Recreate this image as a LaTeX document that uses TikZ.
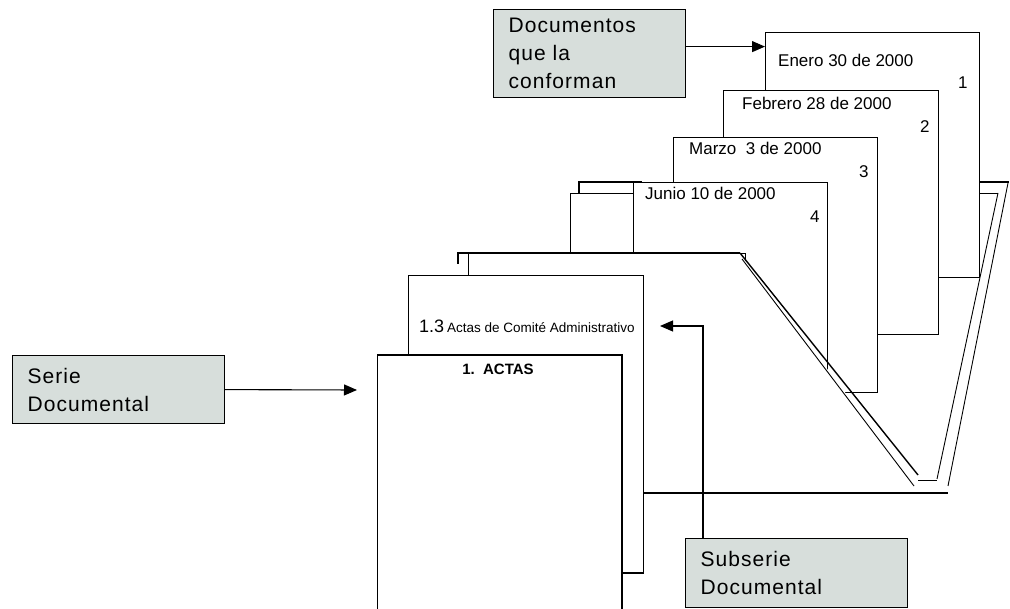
\documentclass[tikz,border=0pt]{standalone}
\usepackage{fontspec}
\setmainfont{Liberation Sans}
\newfontfamily\callfont[LetterSpace=5]{Liberation Sans}
\usetikzlibrary{arrows.meta,calc}
\definecolor{callfill}{RGB}{215,222,219}
\begin{document}
\begin{tikzpicture}[x=1pt,y=-1pt,line join=miter,
  thinline/.style={line width=0.9pt},
  thickline/.style={line width=1.9pt},
  callout/.style={draw,line width=1.2pt,fill=callfill,align=left,inner xsep=15pt,inner ysep=0pt,anchor=north west,font=\callfont\fontsize{21}{28}\selectfont},
  sheet/.style={draw,fill=white,line width=0.9pt,anchor=north west,inner sep=0pt},
  datelabel/.style={font=\fontsize{17}{20}\selectfont,anchor=base west,inner sep=0pt},
  numlabel/.style={font=\fontsize{17}{20}\selectfont,anchor=base west,inner sep=0pt},
  arrow/.style={line width=1.1pt,-{Triangle[length=13pt,width=11pt]}}]
\useasboundingbox (0,0) rectangle (1010,609);
\clip (0,0) rectangle (1010,609);
% back folder (behind the documents)
\draw[thickline] (579,193) -- (579,182) -- (642,182);
\draw[thickline] (979,182) -- (1009,182);
\draw[thinline] (570,252) -- (570,193) -- (633,193);
\draw[thinline] (979,193) -- (998,193);
\draw[thinline] (998,193) -- (937,479);
\draw[thinline] (1008,183) -- (948,486);
% documents
\node[sheet,minimum width=214,minimum height=245] (doc1) at (765,32) {};
\node[datelabel] (t1) at (778,67) {Enero 30 de 2000};
\node[numlabel] (n1) at (958,89) {1};
\node[sheet,minimum width=215,minimum height=244] (doc2) at (723,90) {};
\node[datelabel] (t2) at (742,110) {Febrero 28 de 2000};
\node[numlabel] (n2) at (920,133) {2};
\node[sheet,minimum width=204,minimum height=255] (doc3) at (673,137) {};
\node[datelabel] (t3) at (689,155) {Marzo \ 3 de 2000};
\node[numlabel] (n3) at (859,178) {3};
\node[sheet,minimum width=194,minimum height=230] (doc4) at (633,182) {};
\node[datelabel] (t4) at (645,200) {Junio 10 de 2000};
\node[numlabel] (n4) at (810,223) {4};
% front flap of the folder
\fill[white] (468,254) -- (740,254) -- (916,486) -- (916,492) -- (643,492) -- (643,275) -- (468,275) -- cycle;
\draw[thickline] (458,264) -- (458,253) -- (740,253);
\draw[thinline] (468,253) -- (468,275);
\draw[thinline] (738,253) -- (745,253) -- (745,261);
\draw[line width=1.4pt] (740,253) -- (918,475);
\draw[thinline] (742,259) -- (914,486);
\draw[thinline] (918,480) -- (937,480);
\draw[line width=1.5pt] (643,493) -- (948,493);
% subserie sheet
\node[sheet,minimum width=235,minimum height=298] (sub) at (408,275) {};
\draw[thickline] (622,573) -- (643,573);
\node[anchor=base west,inner sep=0pt] (subT) at (419,333) {{\fontsize{18}{20}\selectfont 1.3} {\fontsize{13.5}{15}\selectfont Actas de Comité Administrativo}};
% serie sheet
\node[sheet,line width=1.2pt,minimum width=244,minimum height=270] (actas) at (377,355) {};
\draw[thickline] (actas.south east) -- (actas.north east) -- (actas.north west);
\node[anchor=base,inner sep=0pt,font=\bfseries\fontsize{15}{17}\selectfont] (actasT) at (498,375) {1.\ \ ACTAS};
% callouts
\node[callout,text width=162,minimum height=88] (docs) at (493,9) {Documentos\\que la\\conforman};
\node[callout,text width=182,minimum height=68] (serie) at (12,355) {Serie\\Documental};
\node[callout,text width=192,minimum height=69] (subc) at (685,538) {Subserie\\Documental};
\coordinate (serieTip) at (357,390);
\coordinate (subTip) at (660,326);
\draw[arrow] ([yshift=7pt]docs.east) -- ([yshift=7pt]docs.east -| doc1.west);
\draw[arrow] (serie.east) -- (serieTip);
\draw[arrow] ([xshift=18pt]subc.north west) |- (subTip);
\end{tikzpicture}
\end{document}
